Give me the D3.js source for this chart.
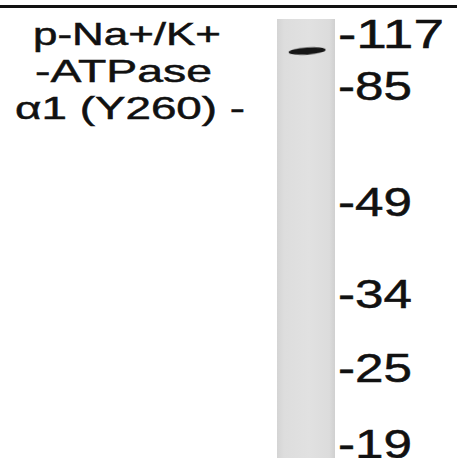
<!DOCTYPE html>
<html>
<head>
<meta charset="utf-8">
<script src="https://cdn.jsdelivr.net/npm/d3@7"></script>
<style>
  body { margin: 0; background: #fff; }
  svg { display: block; }
  text { font-family: "Liberation Sans", Arial, sans-serif; fill: #111; stroke: #111; stroke-width: 0.5; }
</style>
</head>
<body>
<div id="blot"></div>
<script>
const width = 457;
const height = 458;

// lane and protein name
const lanes = ['sample'];
const titleLines = ['p-Na+/K+', '-ATPase', 'α1 (Y260) -'];
const titleWidths = [188, 177, 230];

const markers = ['117', '85', '49', '34', '25', '19'];
const markerRf = [0.041, 0.159, 0.424, 0.633, 0.802, 0.975];
const markerWidths = [106, 74, 74, 74, 74, 74];

// detected band
const bands = [{ lane: 'sample', rf: 0.073, tilt: -4 }];

const svg = d3.select('#blot')
  .append('svg')
  .attr('width', width)
  .attr('height', height);

const laneTop = 19;
const x = d3.scaleBand().domain(lanes).range([277, 335]).padding(0);
const y = d3.scaleLinear().domain([0, 1]).range([laneTop, height]);

// top rule
svg.append('rect')
  .attr('x', 0)
  .attr('y', 5)
  .attr('width', width)
  .attr('height', 3)
  .attr('fill', '#111');

// lane background with a soft horizontal gradient
const defs = svg.append('defs');
const grad = defs.append('linearGradient').attr('id', 'laneGrad');
grad.append('stop').attr('offset', '0%').attr('stop-color', '#d4d4d4');
grad.append('stop').attr('offset', '12%').attr('stop-color', '#dddddd');
grad.append('stop').attr('offset', '55%').attr('stop-color', '#e1e1e1');
grad.append('stop').attr('offset', '90%').attr('stop-color', '#dcdcdc');
grad.append('stop').attr('offset', '100%').attr('stop-color', '#d0d0d0');

defs.append('filter').attr('id', 'blur')
  .append('feGaussianBlur').attr('stdDeviation', 0.7);

svg.selectAll('.lane')
  .data(lanes)
  .join('rect')
  .attr('class', 'lane')
  .attr('x', d => x(d))
  .attr('y', laneTop)
  .attr('width', x.bandwidth())
  .attr('height', height - laneTop)
  .attr('fill', 'url(#laneGrad)');

// band
svg.selectAll('.band')
  .data(bands)
  .join('ellipse')
  .attr('class', 'band')
  .attr('cx', d => x(d.lane) + x.bandwidth() * 0.52)
  .attr('cy', d => y(d.rf))
  .attr('rx', x.bandwidth() * 0.32)
  .attr('ry', 3.6)
  .attr('fill', '#161616')
  .attr('filter', 'url(#blur)')
  .attr('transform', d => `rotate(${d.tilt}, ${x(d.lane) + x.bandwidth() * 0.52}, ${y(d.rf)})`);

// marker labels
svg.selectAll('.marker')
  .data(markers)
  .join('text')
  .attr('class', 'marker')
  .attr('x', 338)
  .attr('y', (d, i) => y(markerRf[i]) + 11)
  .attr('font-size', 41)
  .attr('textLength', (d, i) => markerWidths[i])
  .attr('lengthAdjust', 'spacingAndGlyphs')
  .text(d => '-' + d);

// protein label
svg.selectAll('.title')
  .data(titleLines)
  .join('text')
  .attr('class', 'title')
  .attr('x', (d, i) => [33, 35, 15][i])
  .attr('y', (d, i) => 45 + i * 37)
  .attr('font-size', 32)
  .attr('textLength', (d, i) => titleWidths[i])
  .attr('lengthAdjust', 'spacingAndGlyphs')
  .text(d => d);
</script>
</body>
</html>
